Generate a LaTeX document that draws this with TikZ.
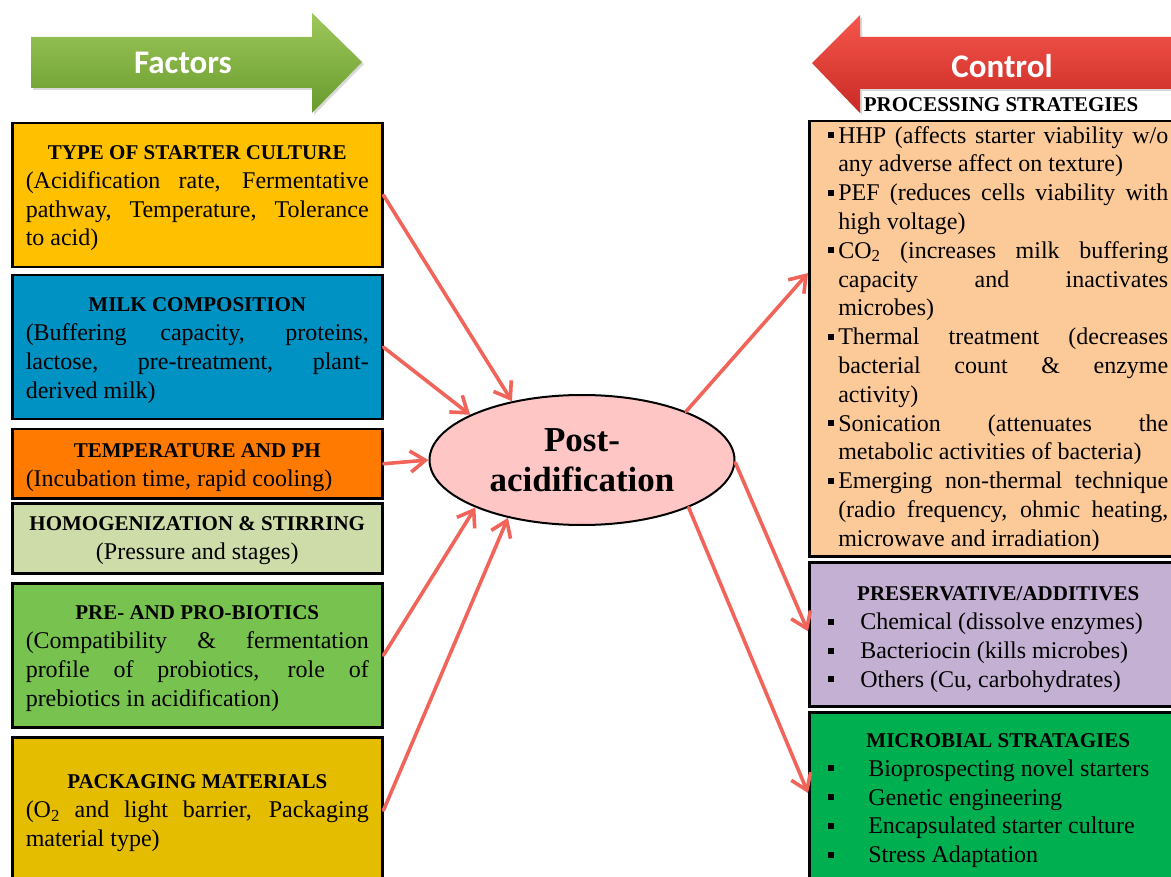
\documentclass[tikz,border=0pt]{standalone}
\usepackage{fontspec}
\setmainfont{Liberation Serif}
\newfontfamily\headfont{Carlito}
\usetikzlibrary{arrows.meta,shapes.geometric,calc,shadows}

\definecolor{cstarter}{RGB}{255,192,0}
\definecolor{cmilk}{RGB}{0,146,195}
\definecolor{ctemp}{RGB}{255,122,0}
\definecolor{chomog}{RGB}{205,220,168}
\definecolor{cbiotic}{RGB}{120,195,80}
\definecolor{cpack}{RGB}{228,188,0}
\definecolor{cproc}{RGB}{252,201,153}
\definecolor{cpres}{RGB}{195,176,210}
\definecolor{cmicro}{RGB}{0,176,80}
\definecolor{cpost}{RGB}{255,198,198}
\definecolor{clink}{RGB}{240,100,90}
\definecolor{greenA}{RGB}{158,200,92}
\definecolor{greenB}{RGB}{104,154,44}
\definecolor{redA}{RGB}{246,86,76}
\definecolor{redB}{RGB}{200,42,36}

\newcommand\bodyfont{\fontsize{24}{28.8}\selectfont\parindent=0pt\tolerance=10000\hbadness=10000\emergencystretch=20pt}
\newcommand\titlefont{\fontsize{21}{28.8}\selectfont\bfseries}
\newcommand\sqmark{\rule[5pt]{6pt}{6pt}}
% centred bold heading; #1 = height of its invisible strut
\newcommand\boxtitle[2]{{\centering\titlefont\rule{0pt}{#1}#2\par}}
% bullet item: #1 = room for the bullet, #2 = text
\newcommand\bulitem[2]{\hangindent=#1\hangafter=1\noindent\makebox[#1][l]{\sqmark}#2\par}

\tikzset{
  factorbox/.style={rectangle, draw=black, line width=2.5pt, anchor=north west,
    inner xsep=13.5pt, inner ysep=0pt, text width=343pt, align=justify, font=\bodyfont},
  sidebox/.style={rectangle, draw=black, line width=2.5pt, anchor=north west,
    inner xsep=19pt, inner ysep=0pt, text width=340pt, align=justify, font=\bodyfont},
  link/.style={draw=clink, line width=3.6pt, line cap=round,
    -{Straight Barb[length=15pt,width=21pt,line width=3.6pt]}},
  headlabel/.style={text=white, font=\headfont\bfseries\fontsize{33}{38}\selectfont},
}

\begin{document}
\begin{tikzpicture}[x=1pt,y=-1pt]
\useasboundingbox (0,0) rectangle (1171,877);
\clip (0,0) rectangle (1171,877);

% header arrows
\path[drop shadow={opacity=0.3, shadow xshift=2pt, shadow yshift=-2pt},
      top color=greenA, bottom color=greenB]
  (31,37) -- (312,37) -- (312,13) -- (362,62) -- (312,113) -- (312,88) -- (31,88) -- cycle;
\node[headlabel] (factorslbl) at (183,63) {Factors};

\path[drop shadow={opacity=0.3, shadow xshift=2pt, shadow yshift=-2pt},
      top color=redA, bottom color=redB]
  (812,63) -- (860,15) -- (860,37) -- (1185,37) -- (1185,89) -- (860,89) -- (860,113) -- cycle;
\node[headlabel] (controllbl) at (1002,66) {Control};

% factor boxes
\node[factorbox, fill=cstarter, minimum height=144pt] (starter) at (11,122) {%
  \boxtitle{20pt}{TYPE OF STARTER CULTURE}
  (Acidification rate, Fermentative\linebreak pathway, Temperature, Tolerance\linebreak to acid)};

\node[factorbox, fill=cmilk, minimum height=144pt] (milk) at (11,274) {%
  \boxtitle{21pt}{MILK COMPOSITION}
  (Buffering capacity, proteins,\linebreak lactose, pre-treatment, plant-\linebreak derived milk)};

\node[factorbox, fill=ctemp, minimum height=69pt] (temp) at (11,428) {%
  \boxtitle{21pt}{TEMPERATURE AND PH}
  (Incubation time, rapid cooling)};

\node[factorbox, fill=chomog, minimum height=70pt] (homog) at (11,502) {%
  \centering\boxtitle{18pt}{HOMOGENIZATION \& STIRRING}
  (Pressure and stages)\par};

\node[factorbox, fill=cbiotic, minimum height=144pt] (biotic) at (11,582) {%
  \boxtitle{21pt}{PRE- AND PRO-BIOTICS}
  (Compatibility \& fermentation\linebreak profile of probiotics, role of\linebreak prebiotics in acidification)};

\node[factorbox, fill=cpack, minimum height=146pt] (pack) at (11,736) {%
  \boxtitle{20pt}{PACKAGING MATERIALS}
  (O\textsubscript{2} and light barrier, Packaging\linebreak material type)};

% control boxes
\node[font=\titlefont] (proctitle) at (1001,105) {PROCESSING STRATEGIES};

\node[sidebox, fill=cproc, minimum height=435pt] (proc) at (808,120) {%
  \bulitem{10pt}{HHP (affects starter viability w/o\linebreak any adverse affect on texture)}
  \bulitem{10pt}{PEF (reduces cells viability with\linebreak high voltage)}
  \bulitem{10pt}{CO\textsubscript{2} (increases milk buffering\linebreak capacity and inactivates\linebreak microbes)}
  \bulitem{10pt}{Thermal treatment (decreases\linebreak bacterial count \& enzyme\linebreak activity)}
  \bulitem{10pt}{Sonication (attenuates the\linebreak metabolic activities of bacteria)}
  \bulitem{10pt}{Emerging non-thermal technique\linebreak (radio frequency, ohmic heating,\linebreak microwave and irradiation)}};

\node[sidebox, fill=cpres, minimum height=144pt] (pres) at (808,561) {%
  \boxtitle{25pt}{PRESERVATIVE/ADDITIVES}
  \bulitem{32pt}{Chemical (dissolve enzymes)}
  \bulitem{32pt}{Bacteriocin (kills microbes)}
  \bulitem{32pt}{Others (Cu, carbohydrates)}};

\node[sidebox, fill=cmicro, minimum height=172pt] (micro) at (808,711) {%
  \boxtitle{19pt}{MICROBIAL STRATAGIES}
  \bulitem{40pt}{Bioprospecting novel starters}
  \bulitem{40pt}{Genetic engineering}
  \bulitem{40pt}{Encapsulated starter culture}
  \bulitem{40pt}{Stress Adaptation}};

% central ellipse
\node[ellipse, draw=black, line width=2pt, fill=cpost, minimum width=305pt,
      minimum height=130pt, inner sep=0pt, align=center,
      font=\fontsize{35}{40}\selectfont\bfseries] (post) at (582,460) {Post-\\acidification};

% connectors into the ellipse
\draw[link] (starter.east) -- (post.140);
\draw[link] (milk.east) -- (post.158);
\draw[link] (temp.east) -- (post.west);
\draw[link] (biotic.east) -- (post.204);
\draw[link] (pack.east) -- (post.218);

% connectors out to the control boxes
\coordinate (procin) at ($(proc.north west)!0.35!(proc.south west)$);
\coordinate (presin) at ($(pres.north west)!0.48!(pres.south west)$);
\coordinate (microin) at ($(micro.north west)!0.47!(micro.south west)$);
\draw[link] (post.25) -- (procin);
\draw[link] (post.-1) -- (presin);
\draw[link] (post.-24) -- (microin);
\end{tikzpicture}
\end{document}
